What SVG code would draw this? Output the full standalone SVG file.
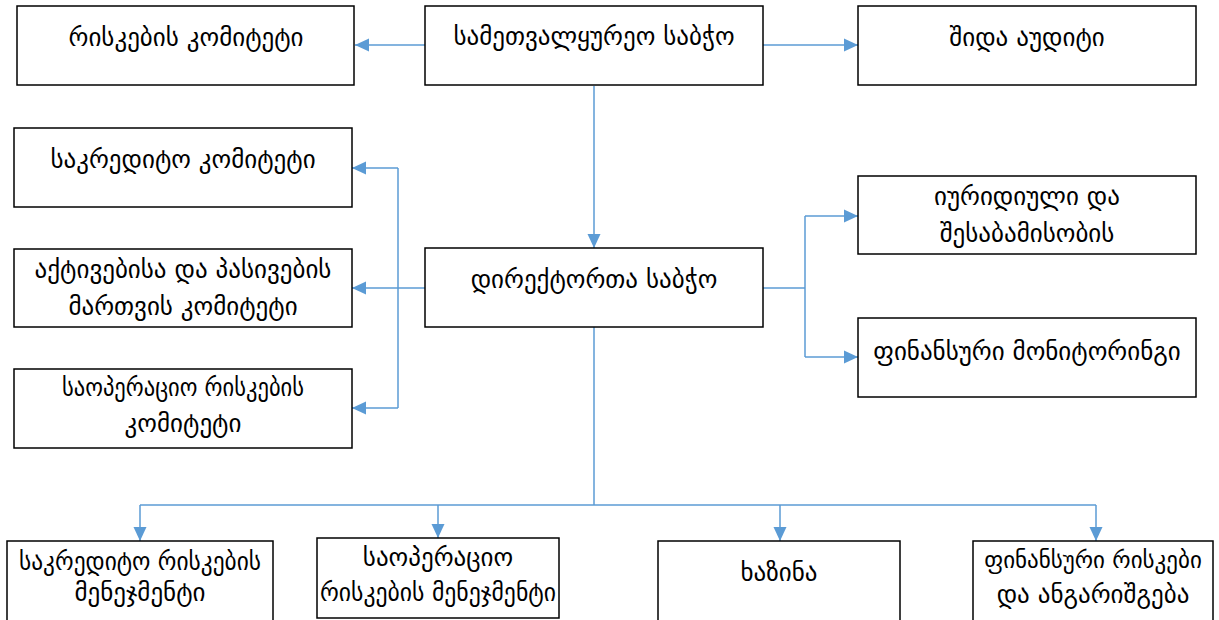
<svg xmlns="http://www.w3.org/2000/svg" width="1219" height="620" viewBox="0 0 1219 620">
<defs>
<marker id="ah" viewBox="0 0 14 14" refX="14" refY="7" markerWidth="14" markerHeight="14" markerUnits="userSpaceOnUse" orient="auto">
<path d="M0,0.5 L14,7 L0,13.5 z" fill="#5B9BD5"/>
</marker>
<style>
.box{fill:#fff;stroke:#000;stroke-width:1.5}
.t{font-family:"DejaVu Sans","Noto Sans",sans-serif;font-size:25px;fill:#000;text-anchor:middle}
.s{font-size:23px}
.c{fill:none;stroke:#5B9BD5;stroke-width:1.5}
.a{marker-end:url(#ah)}
</style>
</defs>
<rect width="1219" height="620" fill="#fff"/>
<g id="connectors">
<path class="c a" d="M425,45 H355"/>
<path class="c a" d="M763,45 H858"/>
<path class="c a" d="M594,86 V248"/>
<path class="c a" d="M425,288 H352"/>
<path class="c" d="M398,168 V408"/>
<path class="c a" d="M398,168 H352"/>
<path class="c a" d="M398,408 H352"/>
<path class="c" d="M763,288 H805"/>
<path class="c" d="M805,216 V357"/>
<path class="c a" d="M805,216 H858"/>
<path class="c a" d="M805,357 H858"/>
<path class="c" d="M594,327 V505"/>
<path class="c" d="M140,505 H1096"/>
<path class="c a" d="M140,505 V541"/>
<path class="c a" d="M438,505 V538"/>
<path class="c a" d="M780,505 V541"/>
<path class="c a" d="M1096,505 V541"/>
</g>
<g id="n-risk-committee"><rect class="box" x="17" y="6" width="337" height="79"/><text class="t" x="186" y="46">რისკების კომიტეტი</text></g>
<g id="n-supervisory-board"><rect class="box" x="425" y="6" width="338" height="79"/><text class="t" x="594" y="45">სამეთვალყურეო საბჭო</text></g>
<g id="n-internal-audit"><rect class="box" x="858" y="6" width="338" height="79"/><text class="t" x="1027" y="46">შიდა აუდიტი</text></g>
<g id="n-credit-committee"><rect class="box" x="14" y="128" width="338" height="79"/><text class="t" x="183" y="168">საკრედიტო კომიტეტი</text></g>
<g id="n-alm-committee"><rect class="box" x="14" y="249" width="338" height="78"/><text class="t" x="183" y="278">აქტივებისა და პასივების</text><text class="t" x="183" y="315">მართვის კომიტეტი</text></g>
<g id="n-oprisk-committee"><rect class="box" x="14" y="369" width="338" height="79"/><text class="t" x="183" y="396" textLength="242" lengthAdjust="spacingAndGlyphs">საოპერაციო რისკების</text><text class="t" x="183" y="432">კომიტეტი</text></g>
<g id="n-board-directors"><rect class="box" x="425" y="248" width="338" height="79"/><text class="t" x="594" y="288">დირექტორთა საბჭო</text></g>
<g id="n-legal-compliance"><rect class="box" x="858" y="176" width="338" height="78"/><text class="t" x="1027" y="205">იურიდიული და</text><text class="t" x="1027" y="242">შესაბამისობის</text></g>
<g id="n-fin-monitoring"><rect class="box" x="858" y="318" width="338" height="79"/><text class="t" x="1027" y="360">ფინანსური მონიტორინგი</text></g>
<g id="n-credit-risk-mgmt"><rect class="box" x="7" y="541" width="266" height="85"/><text class="t" x="140" y="570" textLength="242" lengthAdjust="spacingAndGlyphs">საკრედიტო რისკების</text><text class="t" x="140" y="601">მენეჯმენტი</text></g>
<g id="n-oprisk-mgmt"><rect class="box" x="317" y="538" width="242" height="80"/><text class="t" x="438" y="566">საოპერაციო</text><text class="t" x="438" y="601" textLength="236" lengthAdjust="spacingAndGlyphs">რისკების მენეჯმენტი</text></g>
<g id="n-treasury"><rect class="box" x="658" y="541" width="242" height="85"/><text class="t" x="779" y="581">ხაზინა</text></g>
<g id="n-fin-risk-reporting"><rect class="box" x="973" y="541" width="240" height="85"/><text class="t s" x="1093" y="568">ფინანსური რისკები</text><text class="t" x="1093" y="603">და ანგარიშგება</text></g>
</svg>
